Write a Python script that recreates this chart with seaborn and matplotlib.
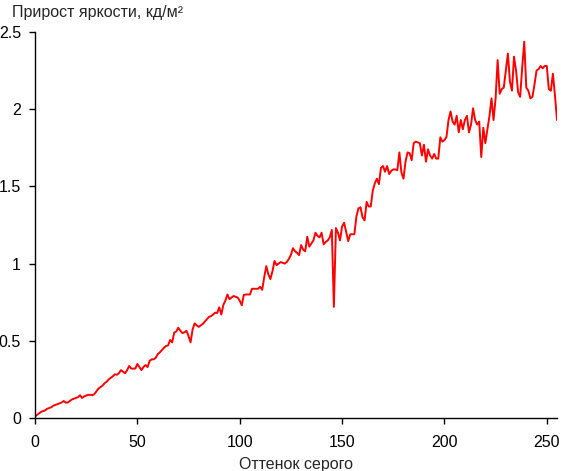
import numpy as np
import pandas as pd
import seaborn as sns
import matplotlib.pyplot as plt

# прирост яркости для каждого оттенка серого (0..255)
shade = list(range(256))
gain = [
    0.01, 0.02, 0.03, 0.04, 0.045, 0.05, 0.06, 0.065, 0.07, 0.08,
    0.085, 0.09, 0.095, 0.10, 0.11, 0.10, 0.10, 0.11, 0.12, 0.125,
    0.13, 0.135, 0.147, 0.13, 0.14, 0.145, 0.15, 0.15, 0.147, 0.155,
    0.173, 0.19, 0.20, 0.21, 0.225, 0.235, 0.25, 0.26, 0.27, 0.283,
    0.28, 0.29, 0.31, 0.30, 0.29, 0.31, 0.337, 0.32, 0.32, 0.32,
    0.35, 0.33, 0.31, 0.33, 0.343, 0.33, 0.37, 0.38, 0.38, 0.39,
    0.414, 0.425, 0.44, 0.455, 0.466, 0.47, 0.505, 0.49, 0.553, 0.56,
    0.585, 0.565, 0.55, 0.555, 0.565, 0.53, 0.49, 0.574, 0.613, 0.60,
    0.59, 0.60, 0.61, 0.625, 0.64, 0.655, 0.66, 0.67, 0.682, 0.68,
    0.717, 0.67, 0.732, 0.76, 0.80, 0.77, 0.78, 0.79, 0.785, 0.78,
    0.76, 0.73, 0.797, 0.80, 0.80, 0.80, 0.837, 0.837, 0.837, 0.837,
    0.85, 0.83, 0.915, 0.984, 0.93, 0.90, 0.95, 1.017, 0.99, 1.00,
    1.01, 1.005, 1.00, 1.01, 1.03, 1.056, 1.10, 1.08, 1.07, 1.055,
    1.12, 1.09, 1.08, 1.174, 1.11, 1.13, 1.15, 1.20, 1.18, 1.17,
    1.20, 1.125, 1.14, 1.15, 1.17, 1.218, 0.72, 1.23, 1.20, 1.15,
    1.24, 1.265, 1.207, 1.146, 1.19, 1.19, 1.19, 1.304, 1.358, 1.365,
    1.30, 1.28, 1.40, 1.37, 1.37, 1.472, 1.52, 1.55, 1.515, 1.62,
    1.632, 1.595, 1.632, 1.58, 1.60, 1.61, 1.61, 1.605, 1.72, 1.59,
    1.55, 1.66, 1.72, 1.715, 1.67, 1.78, 1.79, 1.785, 1.78, 1.70,
    1.77, 1.66, 1.74, 1.70, 1.68, 1.71, 1.68, 1.68, 1.818, 1.79,
    1.80, 1.82, 1.93, 1.985, 1.92, 1.90, 1.957, 1.85, 1.93, 1.87,
    1.93, 1.957, 1.85, 1.90, 2.006, 1.93, 1.90, 1.92, 1.69, 1.88,
    1.78, 1.87, 1.955, 2.07, 1.93, 2.07, 2.318, 2.10, 2.13, 2.14,
    2.25, 2.36, 2.18, 2.12, 2.34, 2.25, 2.11, 2.08, 2.27, 2.437,
    2.14, 2.12, 2.07, 2.08, 2.16, 2.25, 2.26, 2.28, 2.265, 2.28,
    2.28, 2.13, 2.12, 2.23, 2.09, 1.93,
]
xticks = [0, 50, 100, 150, 200, 250]
yticks = [0, 0.5, 1, 1.5, 2, 2.5]
ytick_labels = ['0', '0.5', '1', '1.5', '2', '2.5']

df = pd.DataFrame({'shade': shade, 'gain': gain})

sns.set_style('ticks')
plt.rcParams['font.family'] = ['Liberation Sans', 'DejaVu Sans']

fig = plt.figure(figsize=(5.61, 4.71), dpi=100)
ax = fig.add_axes([35 / 561, 53 / 471, 522 / 561, 386 / 471])

sns.lineplot(data=df, x='shade', y='gain', color='#ff0000', linewidth=1.4, ax=ax)

ax.set_xlim(0, 255)
ax.set_ylim(0, 2.5)
ax.set_xticks(xticks)
ax.set_yticks(yticks)
ax.set_yticklabels(ytick_labels)
ax.tick_params(direction='out', length=4, width=1, colors='black', labelsize=11.5)
ax.tick_params(axis='x', pad=8)
ax.tick_params(axis='y', pad=6)
for s in ['top', 'right']:
    ax.spines[s].set_visible(False)
for s in ['left', 'bottom']:
    ax.spines[s].set_color('black')
    ax.spines[s].set_linewidth(1)

ax.set_xlabel('Оттенок серого', fontsize=11.5, labelpad=5)
ax.set_ylabel('')
fig.text(12 / 561, 1 - 13 / 471, 'Прирост яркости, кд/м²', fontsize=11.5, va='center', ha='left')

fig.savefig('out.png', dpi=100, facecolor='white')
